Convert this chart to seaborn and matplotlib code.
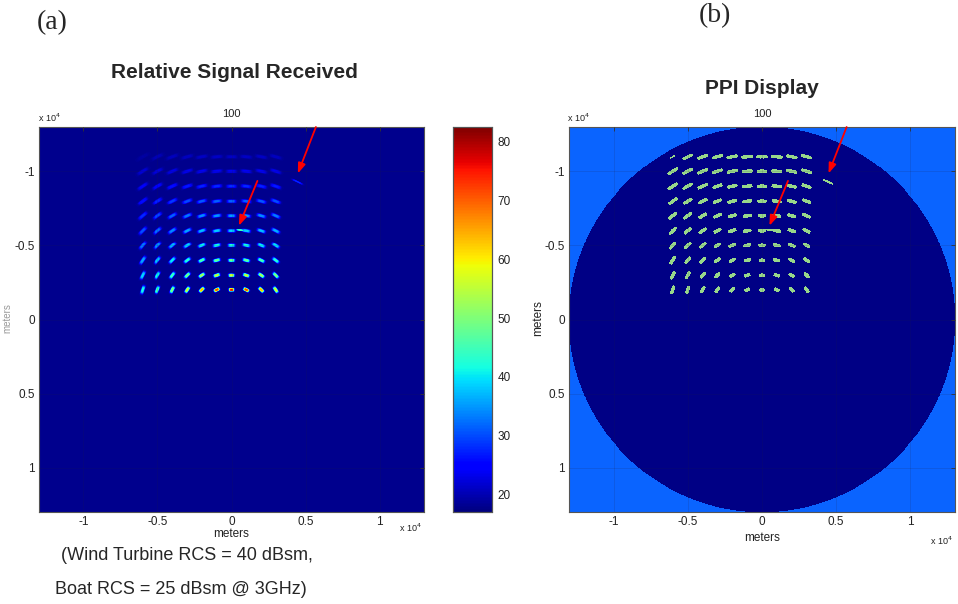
import numpy as np
import matplotlib
matplotlib.use("Agg")
import matplotlib.pyplot as plt
from matplotlib.colors import ListedColormap
import seaborn as sns

# Wind farm grid (meters, radar at the origin)
turbine_x = [-6000, -5000, -4000, -3000, -2000, -1000, 0, 1000, 2000, 3000]
turbine_y = [-11000, -10000, -9000, -8000, -7000, -6000, -5000, -4000, -3000, -2000]

# peak relative signal per turbine, one row per turbine_y value
turbine_db = [
    [19.05, 20.3, 20.6, 20.8, 21.0, 21.1, 21.1, 21.1, 21.0, 20.8],
    [22.0, 22.5, 23.0, 23.5, 23.8, 24.0, 24.0, 24.0, 23.8, 23.5],
    [24.2, 25.0, 26.0, 26.8, 27.5, 28.0, 28.2, 28.0, 27.5, 27.0],
    [26.0, 27.5, 29.0, 30.0, 31.0, 31.5, 31.8, 31.5, 31.0, 30.3],
    [28.0, 30.0, 31.5, 33.0, 34.3, 35.0, 35.5, 35.0, 34.3, 33.3],
    [30.5, 32.5, 34.0, 35.8, 37.3, 38.5, 39.0, 38.5, 37.5, 36.5],
    [33.0, 35.0, 37.0, 39.0, 41.0, 42.3, 43.0, 42.3, 41.0, 39.8],
    [36.0, 38.0, 40.5, 43.0, 46.0, 48.0, 49.0, 48.0, 46.0, 43.5],
    [39.0, 41.5, 44.5, 48.5, 53.0, 56.0, 57.5, 56.0, 53.0, 49.5],
    [42.0, 45.5, 50.0, 56.0, 64.0, 72.0, 76.0, 72.0, 64.0, 57.0],
]

# boats (the two arrowed targets)
boat_x = [4450, 600]
boat_y = [-9300, -6050]
boat_db = [28.0, 46.0]

floor_db = 18.0
detect_db = 1.0
clim = (17.0, 82.5)
extent = 13000

cbar_ticks = [20, 30, 40, 50, 60, 70, 80]
axis_ticks = [-10000, -5000, 0, 5000, 10000]
axis_labels = ["-1", "-0.5", "0", "0.5", "1"]

# red arrows, tail -> head (meters)
arrow_tail = [(5700, -13000), (1750, -9360)]
arrow_head = [(4480, -9860), (500, -6330)]

# ---- build the images -------------------------------------------------
N = 780
cell = 2 * extent / N
c = -extent + (np.arange(N) + 0.5) * cell
X, Y = np.meshgrid(c, c)
R = np.hypot(X, Y)
PHI = np.arctan2(Y, X)


def blob(x0, y0, thick):
    # return smeared along the azimuth (constant range arc)
    r0 = np.hypot(x0, y0)
    half = 120 + 0.018 * r0
    dphi = (PHI - np.arctan2(y0, x0) + np.pi) % (2 * np.pi) - np.pi
    ds = r0 * dphi
    dr = R - r0
    return np.exp(-0.5 * (dr / thick) ** 4 - 0.5 * (ds / half) ** 4)


targets = []
for i, ty in enumerate(turbine_y):
    for j, tx in enumerate(turbine_x):
        targets.append((tx, ty, turbine_db[i][j], 95))
for bx, by, bd in zip(boat_x, boat_y, boat_db):
    targets.append((bx, by, bd, 50))

signal = np.full((N, N), floor_db)
detected = np.zeros((N, N), dtype=bool)
for tx, ty, peak, thick in targets:
    p = blob(tx, ty, thick)
    signal = np.maximum(signal, floor_db + p * (peak - floor_db))
    # fixed display extent, gated by the detection threshold
    level = max(0.3, detect_db / (peak - floor_db))
    detected |= p > level

ppi = np.where(R <= extent, 0, 1)
ppi[detected & (R <= extent)] = 2

# ---- figure ----------------------------------------------------------
sns.set_style("white")
plt.rcParams["font.family"] = ["Liberation Sans", "DejaVu Sans"]

W, H = 958, 604
fig = plt.figure(figsize=(W / 100, H / 100), dpi=100)


def rect(x0, y0, x1, y1):
    return [x0 / W, 1 - y1 / H, (x1 - x0) / W, (y1 - y0) / H]


def to_idx(m):
    return (m + extent) / cell


ax1 = fig.add_axes(rect(39, 127, 424, 512))
cax = fig.add_axes(rect(453, 127, 492, 512))
ax2 = fig.add_axes(rect(569, 127, 955, 512))

sns.heatmap(signal, ax=ax1, cmap="jet", vmin=clim[0], vmax=clim[1],
            cbar_ax=cax, xticklabels=False, yticklabels=False, rasterized=True)
ppi_cmap = ListedColormap(["#000085", "#0a64ff", "#98d68a"])
sns.heatmap(ppi, ax=ax2, cmap=ppi_cmap, vmin=-0.5, vmax=2.5, cbar=False,
            xticklabels=False, yticklabels=False, rasterized=True)

tick_col = "#333333"
for ax in (ax1, ax2):
    ax.set_xticks([to_idx(t) for t in axis_ticks])
    ax.set_xticklabels(axis_labels, rotation=0)
    ax.set_yticks([to_idx(t) for t in axis_ticks])
    ax.set_yticklabels(axis_labels, rotation=0)
    ax.tick_params(direction="in", length=3, width=0.6, labelsize=8.5,
                   colors=tick_col, pad=3, top=True, right=True)
    ax.tick_params(labelcolor="#222222")
    for s in ax.spines.values():
        s.set_visible(True)
        s.set_color("#555555")
        s.set_linewidth(0.8)
    ax.set_axisbelow(False)
    ax.grid(True, color="#202040", lw=0.5, alpha=0.2)
    for tail, head in zip(arrow_tail, arrow_head):
        ax.annotate("", xy=(to_idx(head[0]), to_idx(head[1])),
                    xytext=(to_idx(tail[0]), to_idx(tail[1])),
                    arrowprops=dict(arrowstyle="-|>,head_length=0.6,head_width=0.22",
                                    color="red", lw=1.3, shrinkA=0, shrinkB=0))

cax.set_yticks(cbar_ticks)
cax.set_yticklabels([str(t) for t in cbar_ticks])
cax.tick_params(direction="in", length=3, width=0.6, labelsize=8.5,
                colors=tick_col, labelcolor="#222222", pad=4)
for s in cax.spines.values():
    s.set_visible(True)
    s.set_color("#555555")
    s.set_linewidth(0.8)
cbar = ax1.collections[0].colorbar
if cbar is not None:
    cbar.outline.set_linewidth(0.8)
    cbar.outline.set_edgecolor("#555555")

# texts
serif = ["Liberation Serif", "DejaVu Serif"]
fig.text(52 / W, 1 - 23 / H, "(a)", fontsize=20, ha="center", va="center",
         family=serif)
fig.text(715 / W, 1 - 16 / H, "(b)", fontsize=20, ha="center", va="center",
         family=serif)
fig.text(234 / W, 1 - 73 / H, "Relative Signal Received", fontsize=15,
         fontweight="bold", ha="center", va="center")
fig.text(762 / W, 1 - 88 / H, "PPI Display", fontsize=15,
         fontweight="bold", ha="center", va="center")

for cx, left in ((231.5, 38), (762, 567)):
    fig.text(cx / W, 1 - 114 / H, "100", fontsize=8, ha="center", va="center",
             color="#222222")
    fig.text(left / W, 1 - 118 / H, r"x 10$^4$", fontsize=6.5, ha="left",
             va="center", color="#222222")

fig.text(231.5 / W, 1 - 534 / H, "meters", fontsize=8.5, ha="center",
         va="center", color="#222222")
fig.text(762 / W, 1 - 538 / H, "meters", fontsize=8.5, ha="center",
         va="center", color="#222222")
fig.text(410 / W, 1 - 528 / H, r"x 10$^4$", fontsize=6.5, ha="center",
         va="center", color="#222222")
fig.text(941 / W, 1 - 541 / H, r"x 10$^4$", fontsize=6.5, ha="center",
         va="center", color="#222222")
fig.text(538 / W, 1 - 318 / H, "meters", fontsize=8.5, rotation=90, ha="center",
         va="center", color="#222222")
fig.text(7 / W, 1 - 318 / H, "meters", fontsize=7, rotation=90, ha="center",
         va="center", color="#999999")

fig.text(61 / W, 1 - 556 / H, "(Wind Turbine RCS = 40 dBsm,", fontsize=13,
         ha="left", va="center")
fig.text(55 / W, 1 - 589 / H, "Boat RCS = 25 dBsm @ 3GHz)", fontsize=13,
         ha="left", va="center")

fig.savefig("out.png", dpi=100)
